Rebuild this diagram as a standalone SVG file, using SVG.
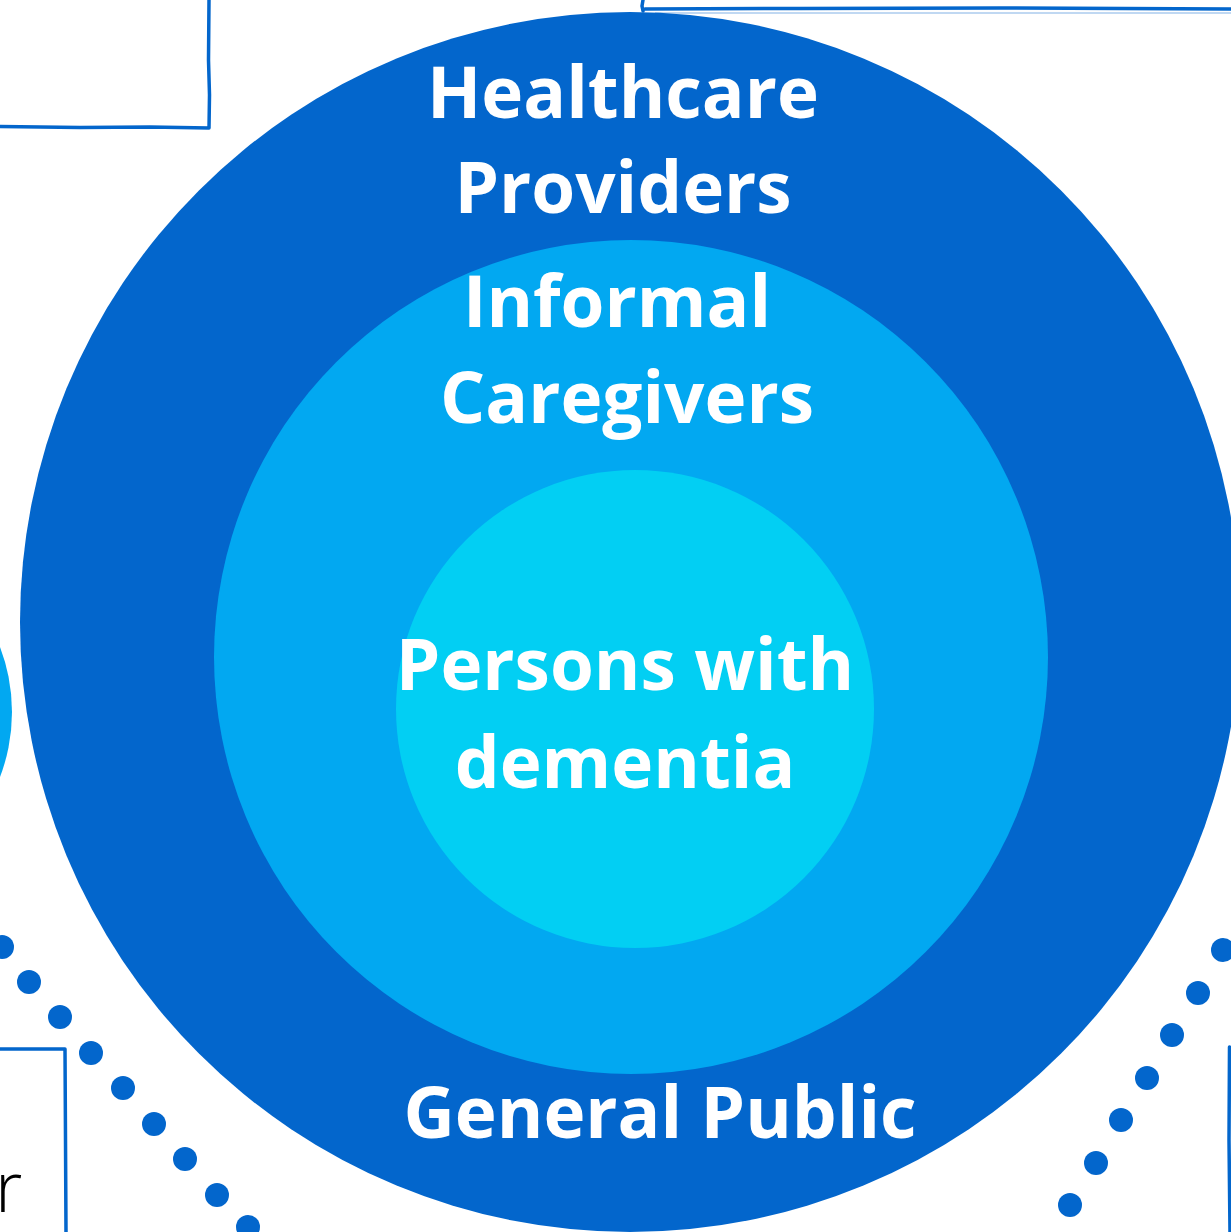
<svg xmlns="http://www.w3.org/2000/svg" width="1231" height="1232" viewBox="0 0 1231 1232">
<style>
.lbl{font-family:"Open Sans","Liberation Sans",sans-serif;font-weight:700;font-size:71px;fill:#ffffff;text-anchor:middle}
.frame{fill:none;stroke:#0366cc;stroke-width:3.5;stroke-linecap:round;stroke-linejoin:round}
.dot{fill:#0366cc}
</style>
<rect width="1231" height="1232" fill="#ffffff"/>
<g id="side-shapes">
<path class="frame" d="M209,0 L208.5,60 L209.5,95 L209,128 L150,127 L80,127.5 L0,126.5"/>
<path class="frame" d="M643,0 L642,6 L643,11 M645,9 L800,8.5 L1000,8 L1231,9"/>
<path d="M655,13 L1231,13" stroke="#0366cc" stroke-width="1.2" opacity="0.5" fill="none"/>
<path class="frame" d="M0,1049 L65,1049 L65.5,1140 L66,1232"/>
<path class="frame" d="M1229.5,1047 L1229,1140 L1230,1232"/>
<circle cx="-170" cy="712" r="182" fill="#02a8f1"/>
<text x="-5" y="1212" font-family="'Open Sans','Liberation Sans',sans-serif" font-weight="300" font-size="70" fill="#000000">r</text>
</g>
<g id="connectors">
<circle class="dot" cx="2" cy="947" r="12"/>
<circle class="dot" cx="29" cy="982" r="12"/>
<circle class="dot" cx="60" cy="1017" r="12"/>
<circle class="dot" cx="91" cy="1053" r="12"/>
<circle class="dot" cx="123" cy="1088" r="12"/>
<circle class="dot" cx="154" cy="1124" r="12"/>
<circle class="dot" cx="185" cy="1159" r="12"/>
<circle class="dot" cx="217" cy="1195" r="12"/>
<circle class="dot" cx="248" cy="1227" r="12"/>
<circle class="dot" cx="1223" cy="950" r="12"/>
<circle class="dot" cx="1198" cy="993" r="12"/>
<circle class="dot" cx="1172" cy="1035" r="12"/>
<circle class="dot" cx="1147" cy="1078" r="12"/>
<circle class="dot" cx="1121" cy="1120" r="12"/>
<circle class="dot" cx="1096" cy="1163" r="12"/>
<circle class="dot" cx="1070" cy="1205" r="12"/>
</g>
<g id="general-public">
<circle cx="630" cy="622" r="610" fill="#0366cc"/>
<text class="lbl" x="660" y="1138">General Public</text>
</g>
<g id="healthcare-providers">
<text class="lbl" x="623" y="118">Healthcare</text>
<text class="lbl" x="623" y="213">Providers</text>
</g>
<g id="informal-caregivers">
<circle cx="631" cy="657" r="417" fill="#02a8f1"/>
<text class="lbl" x="617" y="327">Informal</text>
<text class="lbl" x="627" y="423">Caregivers</text>
</g>
<g id="persons-with-dementia">
<circle cx="635" cy="709" r="239" fill="#02cff3"/>
<text class="lbl" x="625" y="690">Persons with</text>
<text class="lbl" x="625" y="788">dementia</text>
</g>
</svg>
